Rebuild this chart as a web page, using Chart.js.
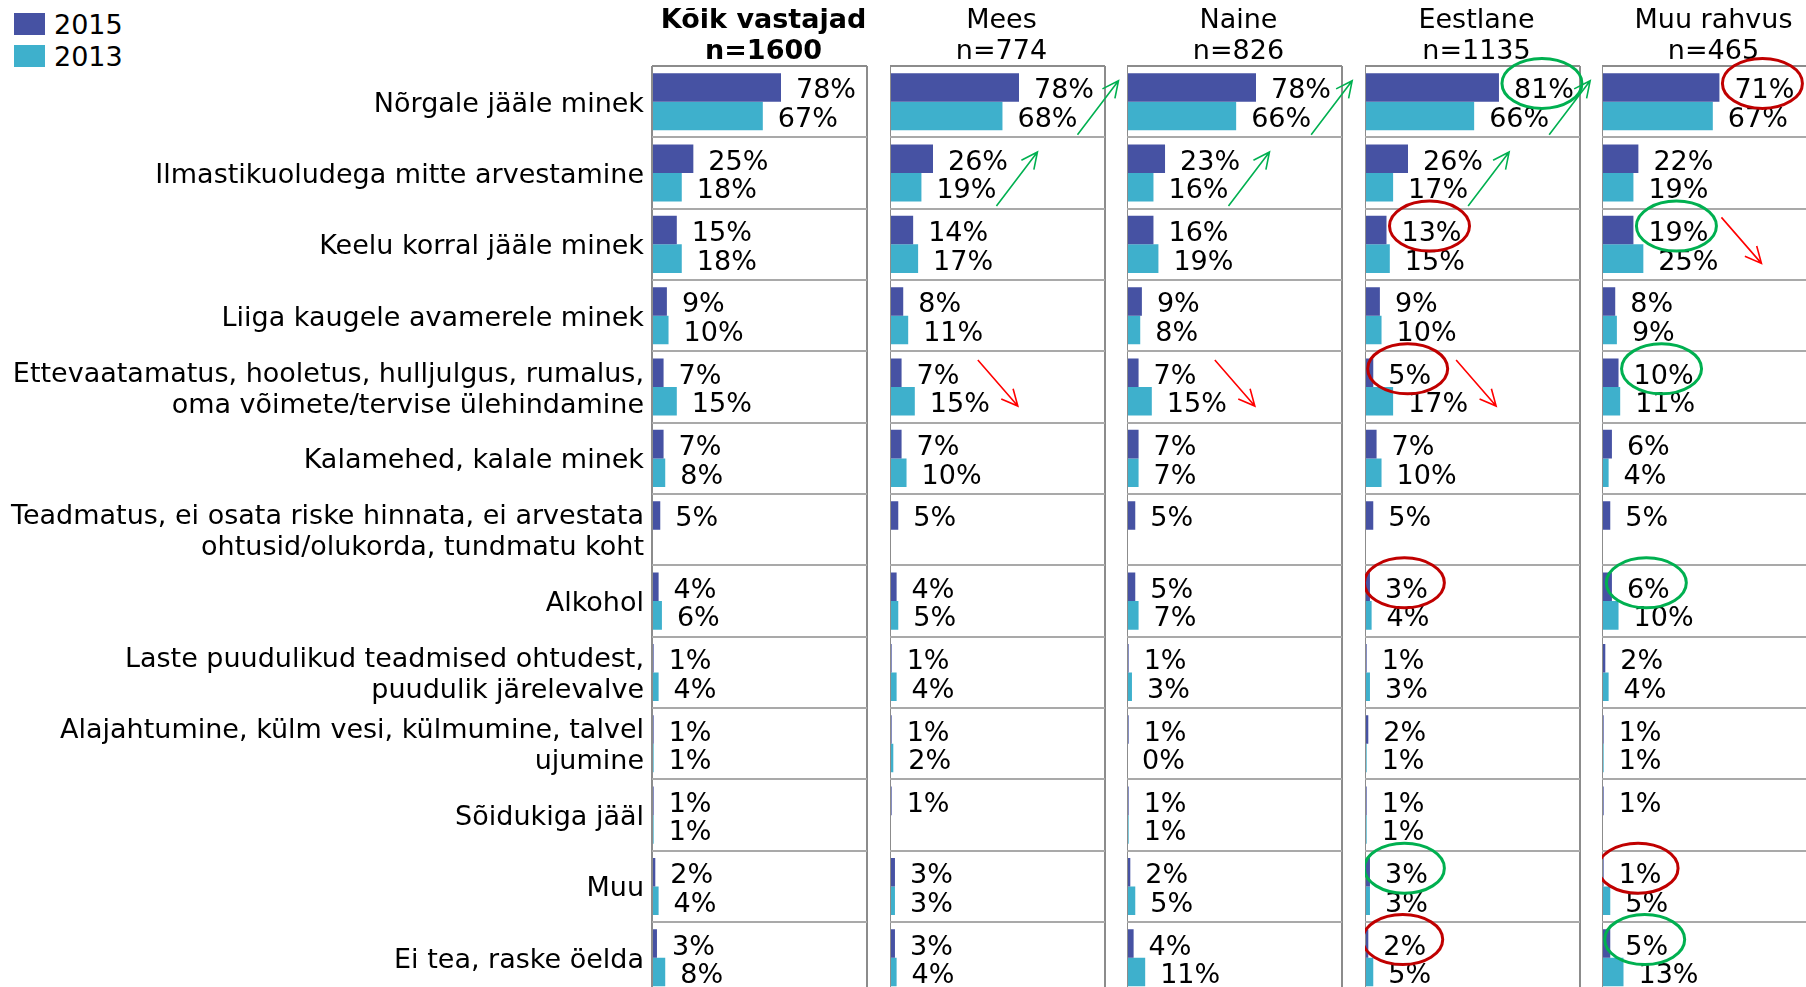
<!DOCTYPE html>
<html>
<head>
<meta charset="utf-8">
<script src="https://cdn.jsdelivr.net/npm/chart.js@4.4.1/dist/chart.umd.min.js"></script>
<style>
body { margin: 0; width: 1806px; height: 987px; overflow: hidden; background: #fff; position: relative; font-family: "DejaVu Sans", sans-serif; }
canvas { position: absolute; top: 0; }
.legend { position: absolute; left: 14px; top: 8px; font-size: 27px; }
.legend div { display: flex; align-items: center; height: 32px; }
.legend span { display: inline-block; width: 31px; height: 22px; margin-right: 9px; }
</style>
</head>
<body>
<div class="legend">
  <div><span style="background:#4652a3"></span>2015</div>
  <div><span style="background:#3eb0cc"></span>2013</div>
</div>
<canvas id="p0" width="897" height="1000" style="left:0px"></canvas>
<canvas id="p1" width="245" height="1000" style="left:890px"></canvas>
<canvas id="p2" width="245" height="1000" style="left:1127px"></canvas>
<canvas id="p3" width="245" height="1000" style="left:1365px"></canvas>
<canvas id="p4" width="245" height="1000" style="left:1602px"></canvas>
<script>
const categories = [
  'Nõrgale jääle minek',
  'Ilmastikuoludega mitte arvestamine',
  'Keelu korral jääle minek',
  'Liiga kaugele avamerele minek',
  ['Ettevaatamatus, hooletus, hulljulgus, rumalus,', 'oma võimete/tervise ülehindamine'],
  'Kalamehed, kalale minek',
  ['Teadmatus, ei osata riske hinnata, ei arvestata', 'ohtusid/olukorda, tundmatu koht'],
  'Alkohol',
  ['Laste puudulikud teadmised ohtudest,', 'puudulik järelevalve'],
  ['Alajahtumine, külm vesi, külmumine, talvel', 'ujumine'],
  'Sõidukiga jääl',
  'Muu',
  'Ei tea, raske öelda'
];

const groupNames = ['Kõik vastajad', 'Mees', 'Naine', 'Eestlane', 'Muu rahvus'];
const groupN = ['n=1600', 'n=774', 'n=826', 'n=1135', 'n=465'];

const all2015 = [78, 25, 15, 9, 7, 7, 5, 4, 1, 1, 1, 2, 3];
const all2013 = [67, 18, 18, 10, 15, 8, null, 6, 4, 1, 1, 4, 8];
const mees2015 = [78, 26, 14, 8, 7, 7, 5, 4, 1, 1, 1, 3, 3];
const mees2013 = [68, 19, 17, 11, 15, 10, null, 5, 4, 2, null, 3, 4];
const naine2015 = [78, 23, 16, 9, 7, 7, 5, 5, 1, 1, 1, 2, 4];
const naine2013 = [66, 16, 19, 8, 15, 7, null, 7, 3, 0, 1, 5, 11];
const eesti2015 = [81, 26, 13, 9, 5, 7, 5, 3, 1, 2, 1, 3, 2];
const eesti2013 = [66, 17, 15, 10, 17, 10, null, 4, 3, 1, 1, 3, 5];
const muu2015 = [71, 22, 19, 8, 10, 6, 5, 6, 2, 1, 1, 1, 5];
const muu2013 = [67, 19, 25, 9, 11, 4, null, 10, 4, 1, null, 5, 13];

// change 2013 -> 2015 arrows
const meesTrend = ['up', 'up', '', '', 'down', '', '', '', '', '', '', '', ''];
const naineTrend = ['up', 'up', '', '', 'down', '', '', '', '', '', '', '', ''];
const eestiTrend = ['up', 'up', '', '', 'down', '', '', '', '', '', '', '', ''];
const muuTrend = ['', '', 'down', '', '', '', '', '', '', '', '', '', ''];
// circled 2015 values (g = higher, r = lower)
const eestiCircle = ['g', '', 'r', '', 'r', '', '', 'r', '', '', '', 'g', 'r'];
const muuCircle = ['r', '', 'g', '', 'g', '', '', 'g', '', '', '', 'r', 'g'];

const FONT = '"DejaVu Sans", sans-serif';

function arrow(ctx, x0, y0, x1, y1, color) {
  const a = Math.atan2(y1 - y0, x1 - x0);
  ctx.strokeStyle = color;
  ctx.lineWidth = 1.6;
  ctx.beginPath();
  ctx.moveTo(x0, y0);
  ctx.lineTo(x1, y1);
  ctx.moveTo(x1 - 18 * Math.cos(a - 0.45), y1 - 18 * Math.sin(a - 0.45));
  ctx.lineTo(x1, y1);
  ctx.lineTo(x1 - 18 * Math.cos(a + 0.45), y1 - 18 * Math.sin(a + 0.45));
  ctx.stroke();
}

const extras = {
  id: 'extras',
  afterDraw(chart, args, opts) {
    const ctx = chart.ctx;
    const area = chart.chartArea;
    const yScale = chart.scales.y;
    ctx.save();

    // titles
    ctx.fillStyle = '#000';
    ctx.textAlign = 'center';
    ctx.textBaseline = 'middle';
    ctx.font = (opts.bold ? 'bold ' : '') + '27px ' + FONT;
    const cx = (area.left + area.right) / 2 + 4;
    ctx.fillText(opts.title[0], cx, 21);
    ctx.fillText(opts.title[1], cx, 52);

    // value labels
    ctx.font = '27px ' + FONT;
    ctx.textAlign = 'left';
    const ends = [[], []];
    chart.data.datasets.forEach((ds, di) => {
      chart.getDatasetMeta(di).data.forEach((bar, i) => {
        const v = ds.data[i];
        if (v === null || v === undefined) return;
        const t = v + '%';
        const x = bar.x + 15;
        ctx.fillText(t, x, bar.y + 4);
        ends[di][i] = { x0: x, x1: x + ctx.measureText(t).width, y: bar.y };
      });
    });

    // circles
    const circleRight = [];
    (opts.circles || []).forEach((c, i) => {
      if (!c || !ends[0][i]) return;
      const e = ends[0][i];
      const ex = (e.x0 + e.x1) / 2 - 2;
      const ey = e.y - 4;
      ctx.strokeStyle = c === 'g' ? '#00b050' : '#c00000';
      ctx.lineWidth = 3;
      ctx.beginPath();
      ctx.ellipse(ex, ey, 40, 25, 0, 0, Math.PI * 2);
      ctx.stroke();
      circleRight[i] = ex + 40;
    });

    // trend arrows
    (opts.trends || []).forEach((t, i) => {
      if (!t) return;
      const cy = yScale.getPixelForValue(i);
      const endMax = Math.max(ends[0][i] ? ends[0][i].x1 : 0, ends[1][i] ? ends[1][i].x1 : 0);
      if (t === 'up') {
        const x0 = ends[1][i].x1;
        arrow(ctx, x0, cy + 33, x0 + 41, cy - 21, '#00b050');
      } else {
        let x0 = endMax - 12;
        if (circleRight[i]) x0 = Math.max(x0, circleRight[i] + 5);
        arrow(ctx, x0, cy - 27, x0 + 40, cy + 19, '#ff0000');
      }
    });
    ctx.restore();
  }
};

function makePanel(id, idx, d15, d13, trends, circles) {
  const first = idx === 0;
  return new Chart(document.getElementById(id), {
    type: 'bar',
    data: {
      labels: categories,
      datasets: [
        { label: '2015', data: d15, backgroundColor: '#4652a3', categoryPercentage: 0.8, barPercentage: 1 },
        { label: '2013', data: d13, backgroundColor: '#3eb0cc', categoryPercentage: 0.8, barPercentage: 1 }
      ]
    },
    options: {
      indexAxis: 'y',
      responsive: false,
      animation: false,
      devicePixelRatio: 1,
      layout: { padding: { left: 0, right: 30, top: 66, bottom: 6.5 } },
      plugins: {
        legend: { display: false },
        tooltip: { enabled: false },
        extras: { title: [groupNames[idx], groupN[idx]], bold: first, trends: trends, circles: circles }
      },
      scales: {
        x: {
          min: 0, max: 130,
          ticks: { display: false, stepSize: 130 },
          grid: { color: '#8c8c8c', lineWidth: 2, drawTicks: false },
          border: { display: false },
          afterFit(s) { s.height = 0; }
        },
        y: {
          ticks: {
            display: first, autoSkip: false, padding: 8, labelOffset: 3, color: '#000',
            font: { family: FONT, size: 27, lineHeight: 1.15 }
          },
          grid: { color: (c) => c.index === 0 ? '#8c8c8c' : '#a9a9a9', lineWidth: 2, drawTicks: false, offset: true },
          border: { display: false },
          afterFit(s) {
            s.width = first ? 652 : 0;
            s.paddingTop = 0;
            s.paddingBottom = 0;
          }
        }
      }
    },
    plugins: [extras]
  });
}

makePanel('p0', 0, all2015, all2013, null, null);
makePanel('p1', 1, mees2015, mees2013, meesTrend, null);
makePanel('p2', 2, naine2015, naine2013, naineTrend, null);
makePanel('p3', 3, eesti2015, eesti2013, eestiTrend, eestiCircle);
makePanel('p4', 4, muu2015, muu2013, muuTrend, muuCircle);
</script>
</body>
</html>
